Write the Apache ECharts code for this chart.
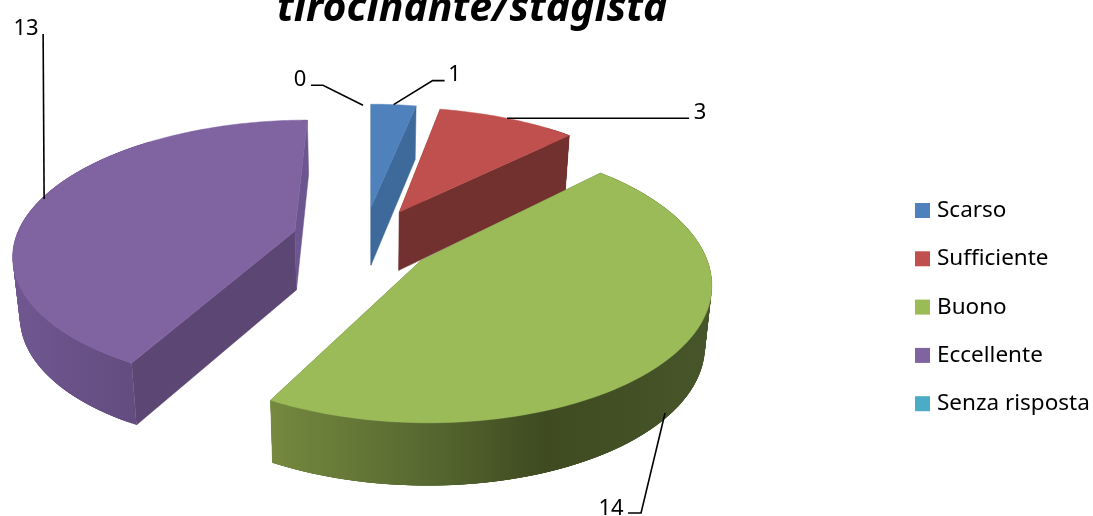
<!DOCTYPE html>
<html><head><meta charset="utf-8">
<style>html,body{margin:0;padding:0;background:#fff}#c{width:1093px;height:516px}</style>
<script src="https://cdn.jsdelivr.net/npm/echarts@6/dist/echarts.min.js"></script>
</head><body><div id="c"></div>
<script>
var categories = ['Scarso', 'Sufficiente', 'Buono', 'Eccellente', 'Senza risposta'];
var values = [1, 3, 14, 13, 0];
var titleText = 'tirocinante/stagista';

var topColors = ['#4f81bd', '#c0504d', '#9bbb59', '#8064a2', '#4bacc6'];
var startWall = ['#3e6a9b', '#72302e', '#5c7036', '#5c4674', '#2f7f95'];
var endWall = ['#3e6a9b', '#72302e', '#5c7036', '#6d5590', '#2f7f95'];
var outerStops = [
  [[0, '#3e6a9b'], [1, '#3e6a9b']],
  [[0, '#72302e'], [1, '#72302e']],
  [[0, '#75893f'], [0.36, '#566830'], [0.62, '#3f4a20'], [1, '#47562a']],
  [[0, '#705791'], [1, '#614b7c']],
  [[0, '#2f7f95'], [1, '#2f7f95']]
];
// exploded position of each slice on the pie plane (unit radius)
var explodeU = [0, 0.105, 0.175, -0.275, 0];
var explodeV = [-0.216, -0.176, 0.185, -0.03, -0.216];
var drawOrder = [3, 4, 0, 1, 2];
// leader line: offsets from the anchor on the rim, label offset from the anchor
var leaderPts = [
  [[0, 0], [39, -24], [51, -24]],
  [[0, 0], [182, 0]],
  [[-2, -4], [-26, 96], [-39, 96]],
  [[3, 0], [2, -165]],
  [[-8, 1], [-48, -19], [-60, -19]]
];
var labelOff = [[61, -30], [193, -6], [-56, 92], [-15, -170], [-71, -25]];
var anchorOnBottom = [false, false, true, false, false];

var CX = 371, CY = 235, RX = 278, RY = 134, DEPTH = 59;

function project(U, V, low) {
  var s = Math.exp(0.161 * V - 0.0164 * V * V);
  var x = RX * U * s, y = RY * V * s;
  if (low) { x *= 0.98; y = y * 0.98 + DEPTH * (0.3 + 0.7 * s); }
  return [CX + x, CY + y];
}
function rim(i, deg, low) {
  var a = deg * Math.PI / 180;
  return project(explodeU[i] + Math.sin(a), explodeV[i] - Math.cos(a), low);
}
function centre(i, low) { return project(explodeU[i], explodeV[i], low); }
function arc(i, a0, a1, low) {
  var pts = [], n = Math.max(2, Math.ceil(Math.abs(a1 - a0)));
  for (var j = 0; j <= n; j++) pts.push(rim(i, a0 + (a1 - a0) * j / n, low));
  return pts;
}

var total = values.reduce(function (a, b) { return a + b; }, 0);
var cum = 0;
var spans = values.map(function (v) { var s = cum; cum += v; return [s / total * 360, cum / total * 360]; });

function renderSlice(i) {
  return function (params, api) {
    var a0 = api.value(0), a1 = api.value(1), kids = [];
    function poly(points, fill, stroke) {
      kids.push({ type: 'polygon', shape: { points: points }, style: { fill: fill, stroke: stroke, lineWidth: stroke ? 0.5 : 0 } });
    }
    if (a1 > a0) {
      var c = centre(i, false), cl = centre(i, true);
      poly([c, rim(i, a0, false), rim(i, a0, true), cl], startWall[i], startWall[i]);
      poly([c, rim(i, a1, false), rim(i, a1, true), cl], endWall[i], endWall[i]);
      var w0 = Math.max(a0, 40), w1 = Math.min(a1, 320);
      if (w1 > w0) {
        var up = arc(i, w0, w1, false), lo = arc(i, w0, w1, true);
        var xs = up.concat(lo).map(function (p) { return p[0]; });
        var fill = new echarts.graphic.LinearGradient(Math.min.apply(null, xs), 0, Math.max.apply(null, xs), 0,
          outerStops[i].map(function (s) { return { offset: s[0], color: s[1] }; }), true);
        // overlapping quads of the same opaque gradient, so no seams show
        for (var j = 0; j + 1 < up.length; j++) {
          var e = Math.min(j + 4, up.length - 1);
          poly([up[j], up[e], lo[e], lo[j]], fill, null);
        }
      }
      poly([c].concat(arc(i, a0, a1, false)), topColors[i], topColors[i]);
    }
    var mid = (a0 + a1) / 2, an = rim(i, mid, anchorOnBottom[i]);
    kids.push({ type: 'polyline', z2: 50,
      shape: { points: leaderPts[i].map(function (o) { return [an[0] + o[0], an[1] + o[1]]; }) },
      style: { fill: null, stroke: '#000', lineWidth: 1.6 } });
    kids.push({ type: 'text', z2: 50, x: an[0] + labelOff[i][0], y: an[1] + labelOff[i][1],
      style: { text: String(api.value(2)), fill: '#000', font: '400 22px "Noto Sans"', align: 'center', verticalAlign: 'middle' } });
    return { type: 'group', children: kids };
  };
}

var series = drawOrder.map(function (i) {
  return {
    type: 'custom', name: categories[i], coordinateSystem: 'none', silent: true,
    itemStyle: { color: topColors[i] }, z: 2,
    data: [[spans[i][0], spans[i][1], values[i]]],
    renderItem: renderSlice(i)
  };
});

var chart = echarts.init(document.getElementById('c'), null, { renderer: 'canvas' });
chart.setOption({
  animation: false,
  backgroundColor: '#fff',
  title: { text: titleText, left: 277, top: -14, padding: 0,
    textStyle: { fontFamily: 'Noto Sans', fontStyle: 'italic', fontWeight: 'bold', fontSize: 41, color: '#000', lineHeight: 46 } },
  legend: {
    data: categories, orient: 'vertical', left: 915, top: 198, padding: 0,
    icon: 'rect', itemWidth: 15, itemHeight: 15, itemGap: 23.3,
    textStyle: { fontFamily: 'Noto Sans', fontSize: 22.5, color: '#000', lineHeight: 25, padding: [0, 0, 0, 2] }
  },
  series: series
});
</script></body></html>
